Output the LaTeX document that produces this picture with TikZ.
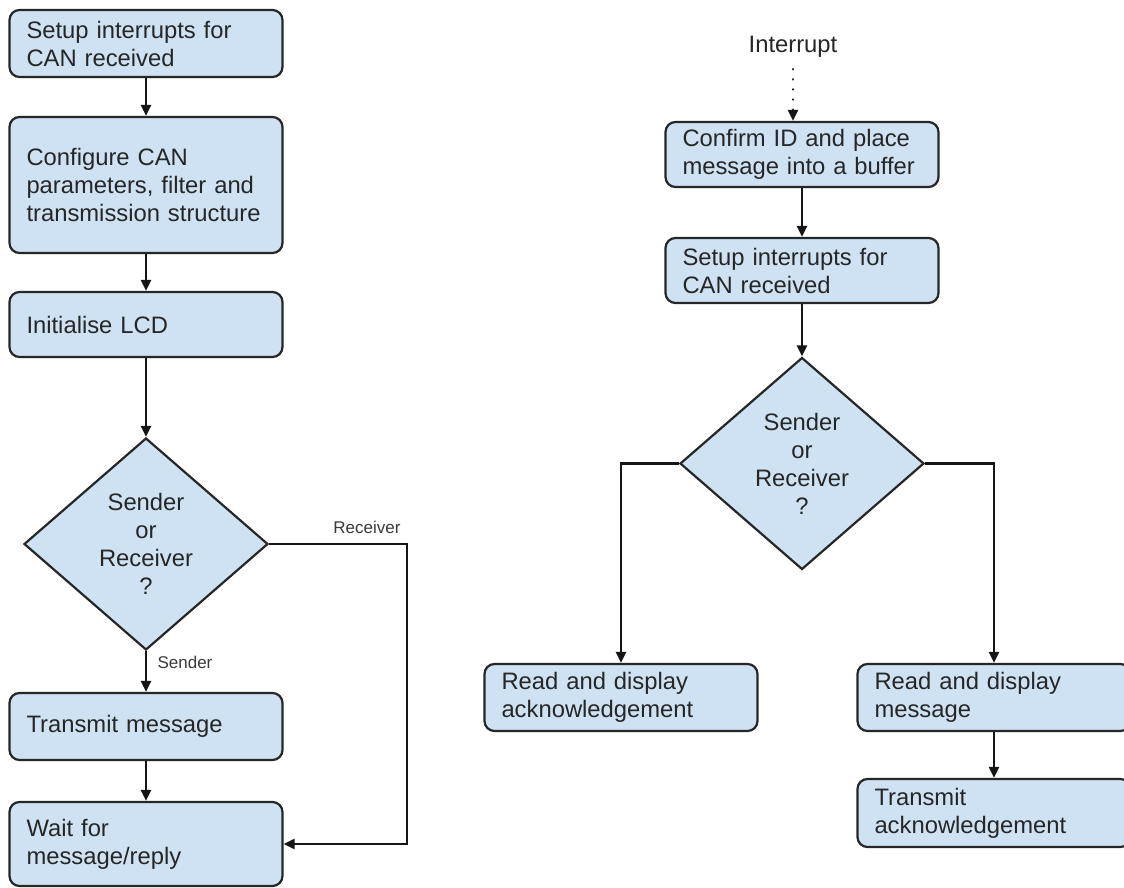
\documentclass[tikz,border=0pt]{standalone}
\usepackage{fontspec}
\setmainfont{Liberation Sans}
\usetikzlibrary{arrows.meta,shapes.geometric}

\definecolor{boxfill}{HTML}{CFE2F3}
\definecolor{ink}{HTML}{262626}
\definecolor{edgeline}{HTML}{151515}
\definecolor{labelink}{HTML}{3A3A3A}

\tikzset{
  body/.style={font=\fontsize{23.8pt}{28pt}\selectfont, text=ink},
  stepbox/.style={body, draw=ink, line width=2.2pt, fill=boxfill,
    rounded corners=10pt, text width=239pt, inner xsep=17pt, inner ysep=0pt,
    align=left, anchor=center},
  decision/.style={body, diamond, draw=ink, line width=2.2pt, fill=boxfill,
    aspect=1.15, inner sep=0pt, minimum width=244pt, minimum height=212pt,
    align=center},
  flow/.style={draw=edgeline, line width=2.3pt,
    -{Triangle[length=11pt,width=10pt]}},
  dotflow/.style={flow, line width=2.6pt, line cap=round,
    dash pattern=on 0.1pt off 10pt},
  branch/.style={font=\fontsize{17pt}{20pt}\selectfont, text=labelink, inner sep=0pt}
}

\begin{document}
\begin{tikzpicture}[x=1pt, y=-1pt]
  \useasboundingbox (0,0) rectangle (1124,888);
  \fill[white] (0,0) rectangle (1124,888);

  % ---- transmitter / main loop ----
  \node[stepbox, minimum height=67pt] (setup) at (146,43.5)
    {Setup interrupts for\\CAN received};
  \node[stepbox, minimum height=136pt] (config) at (146,185)
    {Configure CAN\\parameters, filter and\\transmission structure};
  \node[stepbox, minimum height=65pt] (lcd) at (146,324.5)
    {Initialise LCD};
  \node[decision] (role) at (146,544) {Sender\\or\\Receiver\\?};
  \node[stepbox, minimum height=67pt] (tx) at (146,726.5)
    {Transmit message};
  \node[stepbox, minimum height=84pt] (wait) at (146,844)
    {Wait for\\message/reply};

  \coordinate (recvturn) at (407,544);
  \node[branch] (lblrecv) at (367,527) {Receiver};
  \node[branch] (lblsend) at (185,662) {Sender};

  \draw[flow] (setup) -- (config);
  \draw[flow] (config) -- (lcd);
  \draw[flow] (lcd) -- (role);
  \draw[flow] (role) -- (tx);
  \draw[flow] (tx) -- (wait);
  \draw[flow] (role.east) -- (recvturn) |- (wait.east);

  % ---- interrupt handler ----
  \node[body] (irq) at (793,47) {Interrupt};
  \node[stepbox, minimum height=65pt] (confirm) at (802,154.5)
    {Confirm ID and place\\message into a buffer};
  \node[stepbox, minimum height=65pt] (rearm) at (802,270.5)
    {Setup interrupts for\\CAN received};
  \node[decision] (role2) at (802,463.5) {Sender\\or\\Receiver\\?};
  \node[stepbox, minimum height=67pt] (readack) at (621,697.5)
    {Read and display\\acknowledgement};
  \node[stepbox, minimum height=67pt] (readmsg) at (994,697.5)
    {Read and display\\message};
  \node[stepbox, minimum height=68pt] (txack) at (994,813)
    {Transmit\\acknowledgement};

  \draw[dotflow] ([yshift=-8pt]irq.south) -- (irq.south |- confirm.north);
  \draw[flow] (confirm) -- (rearm);
  \draw[flow] (rearm) -- (role2);
  \draw[flow] (role2.west) -| (readack.north);
  \draw[flow] (role2.east) -| (readmsg.north);
  \draw[flow] (readmsg) -- (txack);
\end{tikzpicture}
\end{document}
